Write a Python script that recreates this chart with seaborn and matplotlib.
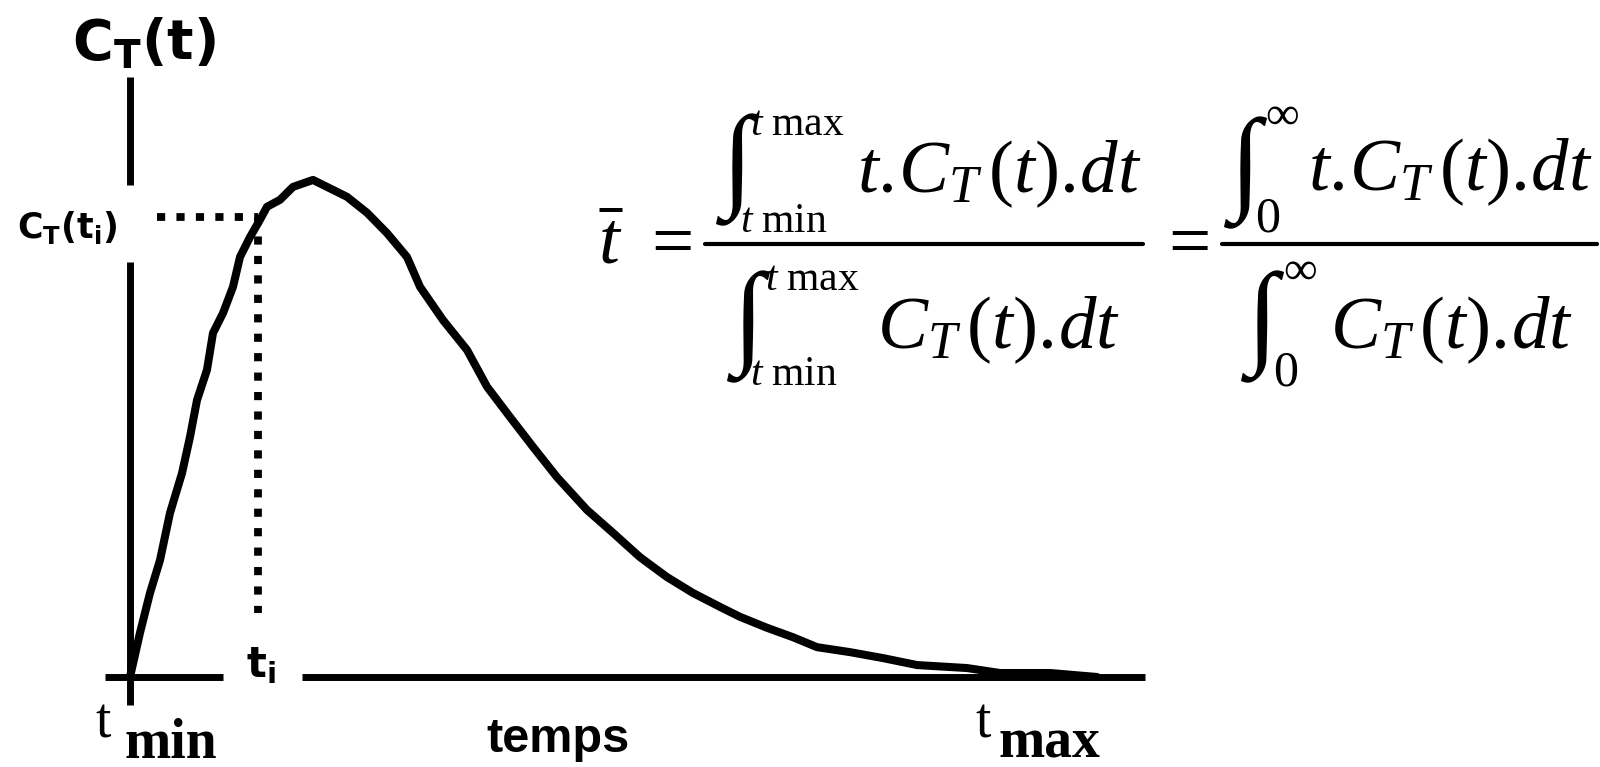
import matplotlib
matplotlib.use("Agg")
import matplotlib.pyplot as plt
from matplotlib.lines import Line2D
import seaborn as sns
import pandas as pd

# Residence-time distribution curve C_T(t) (time in arbitrary units, C in % of peak)
time = [0.0, 1.0, 2.0, 3.0, 4.0, 5.2, 6.0, 6.7, 7.7, 8.3, 9.3, 10.3, 11.0, 12.0,
        13.0, 13.7, 15.0, 16.3, 18.3, 19.7, 21.7, 23.7, 25.7, 27.7, 29.0, 31.3,
        33.7, 35.7, 38.0, 40.3, 42.7, 45.7, 48.3, 51.0, 53.7, 56.3, 59.0, 61.0,
        63.7, 66.3, 68.7, 72.0, 75.3, 78.7, 83.7, 87.0, 92.0, 96.7]
conc = [0.0, 8.9, 16.9, 23.5, 33.0, 41.0, 48.3, 55.7, 61.8, 69.2, 73.2, 78.5,
        84.5, 88.5, 92.0, 94.6, 96.0, 98.6, 100.0, 98.6, 96.6, 93.4, 89.3, 84.5,
        78.5, 71.8, 65.8, 58.4, 52.3, 46.3, 40.2, 33.6, 29.0, 24.1, 20.1, 16.9,
        14.1, 12.1, 9.9, 8.0, 6.0, 5.0, 3.8, 2.4, 1.8, 0.8, 0.8, 0.0]

# Marked instant t_i and its concentration C_T(t_i)
t_i = 12.8
c_ti = 92.6
ti_drop_end = 12.9      # lower end of the vertical guide
guide_start = 2.7       # left end of the horizontal guide

# Axis segments (broken where the labels sit)
x_axis_segments = [(-2.5, 9.3), (17.2, 101.5)]
y_axis_segments = [(99.0, 120.7), (-5.6, 83.5)]

sns.set_theme(style="white")
plt.rcParams["font.family"] = ["DejaVu Sans"]
plt.rcParams["text.color"] = "black"
# Times-like faces for the formula (used through math_fontfamily="custom")
plt.rcParams["mathtext.rm"] = "Liberation Serif"
plt.rcParams["mathtext.it"] = "Liberation Serif:italic"
plt.rcParams["mathtext.bf"] = "Liberation Serif:bold"

W, H = 1600, 767
fig = plt.figure(figsize=(W / 100, H / 100), dpi=100)
ax = fig.add_axes([0, 0, 1, 1])
ax.set_xlim(-13.0, 147.0)
ax.set_ylim(-18.11, 136.2)
ax.set_axis_off()

LW_AXIS = 5.0
for a, b in x_axis_segments:
    ax.plot([a, b], [0, 0], color="black", lw=LW_AXIS, solid_capstyle="butt")
for a, b in y_axis_segments:
    ax.plot([0, 0], [a, b], color="black", lw=LW_AXIS, solid_capstyle="butt")

df = pd.DataFrame({"t": time, "C": conc})
sns.lineplot(data=df, x="t", y="C", ax=ax, color="black", lw=5.8,
             sort=False, estimator=None, legend=False)

ax.plot([guide_start, t_i], [c_ti, c_ti], color="black", lw=5.6,
        dashes=(1.05, 1.45), dash_capstyle="butt")
ax.plot([t_i, t_i], [c_ti, ti_drop_end], color="black", lw=5.6,
        dashes=(1.05, 1.45), dash_capstyle="butt")


def px(x, y):
    return x / W, 1 - y / H


def txt(x, y, s, **kw):
    kw.setdefault("color", "black")
    return fig.text(*px(x, y), s, **kw)


# Axis labels
txt(72, 44, r"$\mathbf{C_T(t)}$", fontsize=40, ha="left", va="center",
    math_fontfamily="dejavusans")
txt(17, 227, r"$\mathbf{C_T(t_i)}$", fontsize=25, ha="left", va="center",
    math_fontfamily="dejavusans")
txt(246, 665, r"$\mathbf{t_i}$", fontsize=30, ha="left", va="center",
    math_fontfamily="dejavusans")

serif = dict(family="Liberation Serif", fontsize=40, va="baseline", ha="left")
txt(96, 738, "t", **serif)
txt(124, 758, "min", weight="bold", **serif)
txt(976, 738, "t", **serif)
txt(998, 758, "max", weight="bold", **serif)

txt(558, 740, "temps", family="Liberation Sans", weight="bold",
    fontsize=35, ha="center", va="center")

# Mean residence time formula, set piece by piece
BODY = 54
LIM = 30
INT = 82
math = dict(math_fontfamily="custom", va="baseline", ha="left")
centered = dict(math_fontfamily="custom", va="center", ha="center")

txt(598, 263, r"$\bar{t}$", fontsize=BODY, **math)
txt(667, 243, r"$=$", fontsize=BODY, **centered)
txt(1184, 243, r"$=$", fontsize=BODY, **centered)

# Fraction bars
for x0, x1 in [(705, 1143), (1222, 1597)]:
    fig.add_artist(Line2D([x0 / W, x1 / W], [1 - 244 / H] * 2, color="black",
                          lw=3.0, transform=fig.transFigure))

integrals = [(738, 170), (749, 327), (1246, 173), (1263, 327)]
for cx, cy in integrals:
    txt(cx, cy, r"$\mathbf{\int}$", fontsize=INT, **centered)

num_body = r"$t.\!C_T\,(t).\!dt$"
den_body = r"$C_T\,(t).\!dt$"
txt(857, 192, num_body, fontsize=BODY, **math)
txt(877, 348, den_body, fontsize=BODY, **math)
txt(1308, 190, num_body, fontsize=BODY, **math)
txt(1330, 348, den_body, fontsize=BODY, **math)

upper = r"$t\ \mathrm{max}$"
lower = r"$t\ \mathrm{min}$"
txt(750, 135, upper, fontsize=LIM, **math)
txt(740, 232, lower, fontsize=LIM, **math)
txt(765, 290, upper, fontsize=LIM, **math)
txt(750, 385, lower, fontsize=LIM, **math)

txt(1265, 128, r"$\infty$", fontsize=LIM + 4, **math)
txt(1255, 232, r"$0$", fontsize=LIM + 6, **math)
txt(1283, 283, r"$\infty$", fontsize=LIM + 4, **math)
txt(1273, 386, r"$0$", fontsize=LIM + 6, **math)

fig.savefig("out.png", dpi=100, facecolor="white")
